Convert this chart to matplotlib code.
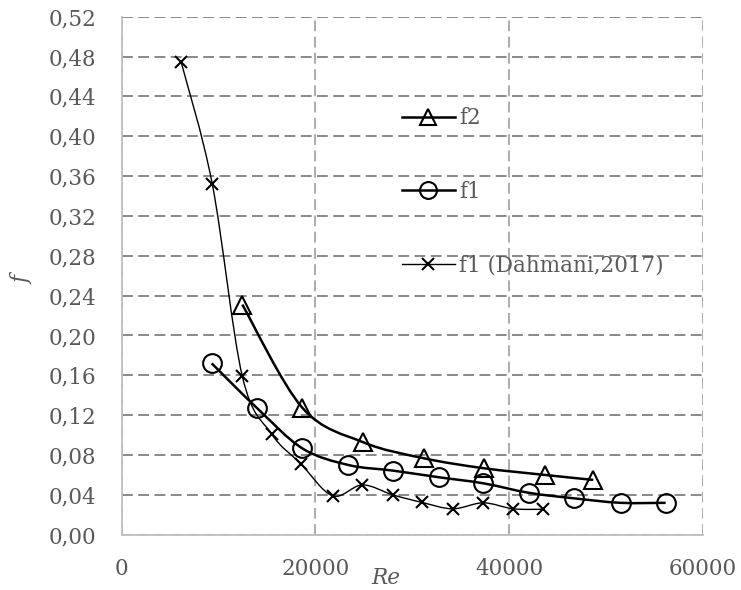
import matplotlib
matplotlib.use('Agg')
import matplotlib.pyplot as plt
from matplotlib.path import Path
from matplotlib import patches
import numpy as np

# data
re_f2 = [12450, 18640, 24930, 31200, 37390, 43680, 48670]
f2 = [0.231, 0.1275, 0.0928, 0.0767, 0.0667, 0.060, 0.055]

re_f1 = [9290, 13930, 18640, 23390, 28030, 32780, 37320, 42060, 46710, 51490, 56140]
f1 = [0.172, 0.1275, 0.0867, 0.070, 0.0643, 0.0576, 0.0516, 0.042, 0.0365, 0.032, 0.032]

re_dah = [6120, 9350, 12450, 15480, 18500, 21770, 24830, 27970, 30960, 34160, 37320, 40410, 43510]
f_dah = [0.475, 0.352, 0.159, 0.101, 0.071, 0.039, 0.050, 0.040, 0.0325, 0.026, 0.032, 0.026, 0.0255]

labels = ['f2', 'f1', 'f1 (Dahmani,2017)']
y_ticks = np.arange(0, 0.521, 0.04)
x_ticks = [0, 20000, 40000, 60000]

TXT = '#595959'
FONT = 'DejaVu Serif'
FS = 15.5


def smooth_path(xs, ys):
    """Excel-like smoothed line: Catmull-Rom converted to cubic Bezier."""
    pts = np.column_stack([xs, ys]).astype(float)
    verts = [pts[0]]
    codes = [Path.MOVETO]
    n = len(pts)
    for i in range(n - 1):
        p0 = pts[i - 1] if i > 0 else pts[i]
        p1 = pts[i]
        p2 = pts[i + 1]
        p3 = pts[i + 2] if i + 2 < n else pts[i + 1]
        c1 = p1 + (p2 - p0) / 6.0
        c2 = p2 - (p3 - p1) / 6.0
        verts += [c1, c2, p2]
        codes += [Path.CURVE4] * 3
    return Path(verts, codes)


fig = plt.figure(figsize=(7.41, 5.90), dpi=100)
ax = fig.add_axes([121.7 / 741, 1 - 534.7 / 590, (703 - 121.7) / 741, (534.7 - 16.7) / 590])

series = [
    (re_f2, f2, '^', 13, 1.8),
    (re_f1, f1, 'o', 13.5, 1.8),
    (re_dah, f_dah, 'x', 9, 1.0),
]
handles = []
for (xs, ys, mk, ms, lw), lab in zip(series, labels):
    ax.add_patch(patches.PathPatch(smooth_path(xs, ys), fill=False, edgecolor='black',
                                   linewidth=lw, zorder=3))
    ax.plot(xs, ys, linestyle='none', marker=mk, markersize=ms, markerfacecolor='none',
            markeredgecolor='black', markeredgewidth=1.5, zorder=4)
    h, = ax.plot([], [], color='black', linewidth=lw, marker=mk, markersize=ms * 0.9,
                 markerfacecolor='none', markeredgecolor='black', markeredgewidth=1.5)
    handles.append(h)

ax.set_xlim(0, 60000)
ax.set_ylim(0, 0.52)
ax.set_xticks(x_ticks)
ax.set_yticks(y_ticks)
ax.set_yticklabels([('%.2f' % v).replace('.', ',') for v in y_ticks])
ax.set_xticklabels([str(v) for v in x_ticks])
ax.tick_params(length=0, labelsize=FS, labelcolor=TXT)
ax.tick_params(axis='y', pad=18)
ax.tick_params(axis='x', pad=17)
for lab in ax.get_xticklabels() + ax.get_yticklabels():
    lab.set_fontfamily(FONT)

ax.yaxis.grid(True, color='#808080', linestyle=(0, (6, 3)), linewidth=1.3)
ax.xaxis.grid(True, color='#a6a6a6', linestyle=(0, (6, 3)), linewidth=1.3)
ax.set_axisbelow(True)
for s in ['top', 'right']:
    ax.spines[s].set_visible(False)
for s in ['left', 'bottom']:
    ax.spines[s].set_color('#bfbfbf')
    ax.spines[s].set_linewidth(1.3)

fig.text(386 / 741, 1 - 578 / 590, 'Re', ha='center', va='center', fontsize=FS,
         style='italic', color=TXT, family=FONT)
fig.text(22 / 741, 1 - 280 / 590, 'f', ha='center', va='center', fontsize=FS,
         style='italic', color=TXT, family=FONT, rotation=90)

leg = ax.legend(handles, labels, loc='center left', bbox_to_anchor=(0.482, 0.662),
                frameon=False, prop={'family': FONT, 'size': FS}, labelspacing=2.4,
                handlelength=2.45, handletextpad=0.22, borderpad=0, borderaxespad=0)
for t in leg.get_texts():
    t.set_color(TXT)

fig.savefig('out.png', dpi=100, facecolor='white')
